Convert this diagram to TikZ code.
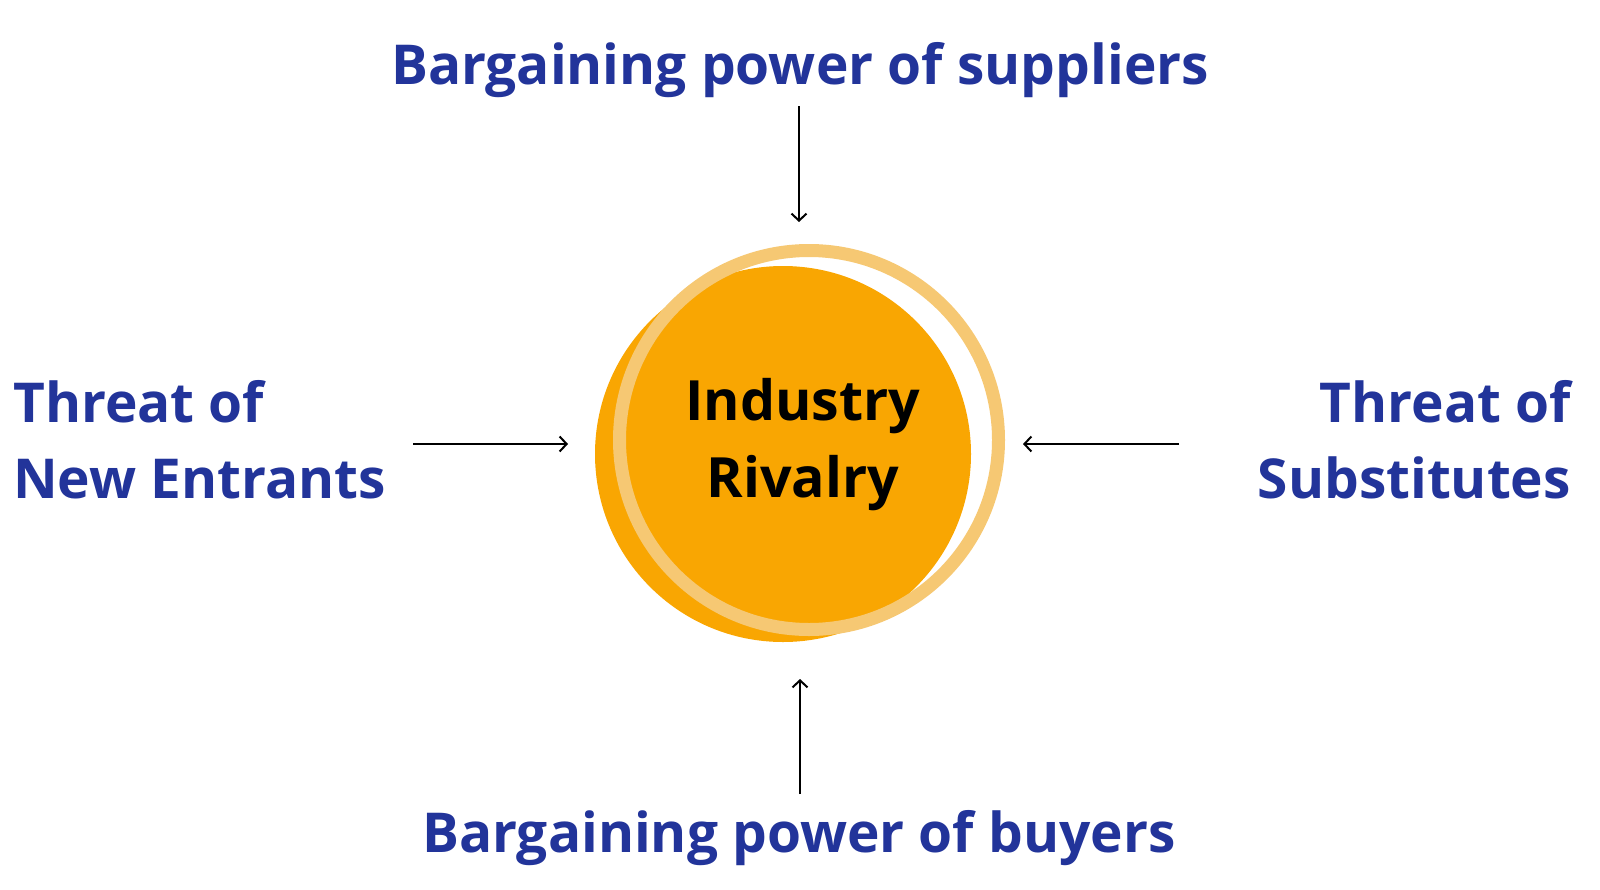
\documentclass[tikz,border=0pt]{standalone}
\usepackage{fontspec}
\setmainfont{Open Sans}
\usetikzlibrary{arrows.meta}
\definecolor{lblblue}{HTML}{22349A}
\definecolor{solidorange}{HTML}{F9A602}
\definecolor{ringorange}{HTML}{F6C873}
\begin{document}
\begin{tikzpicture}[x=1pt,y=-1pt,
  lbl/.style={text=lblblue,font=\fontsize{55}{76}\selectfont\bfseries,inner sep=0pt},
  ctr/.style={text=black,font=\fontsize{55.5}{77}\selectfont\bfseries,inner sep=0pt,align=center},
  arr/.style={-{Straight Barb[length=7pt,width=15pt,line width=2pt]},line width=2pt,black}]
\useasboundingbox (0,0) rectangle (1600,889);
\fill[solidorange] (783,454) circle (188);
\draw[ringorange,line width=13pt] (809,440) circle (189.5);
\node[ctr,anchor=base] (rival) at (803,497) {Industry\\Rivalry};
\node[lbl,anchor=base] (sup) at (800,84) {Bargaining power of suppliers};
\node[lbl,anchor=base] (buy) at (799,852) {Bargaining power of buyers};
\node[lbl,anchor=base west,align=left] (new) at (13,498) {Threat of\\New Entrants};
\node[lbl,anchor=base east,align=right] (subst) at (1571,498) {Threat of\\Substitutes};
\coordinate (supS) at (799,106);
\coordinate (supE) at (799,222);
\coordinate (buyS) at (800,794);
\coordinate (buyE) at (800,679);
\coordinate (newS) at (413,444);
\coordinate (newE) at (568,444);
\coordinate (subS) at (1179,444);
\coordinate (subE) at (1023,444);
\draw[arr] (supS) -- (supE);
\draw[arr] (buyS) -- (buyE);
\draw[arr] (newS) -- (newE);
\draw[arr] (subS) -- (subE);
\end{tikzpicture}
\end{document}
